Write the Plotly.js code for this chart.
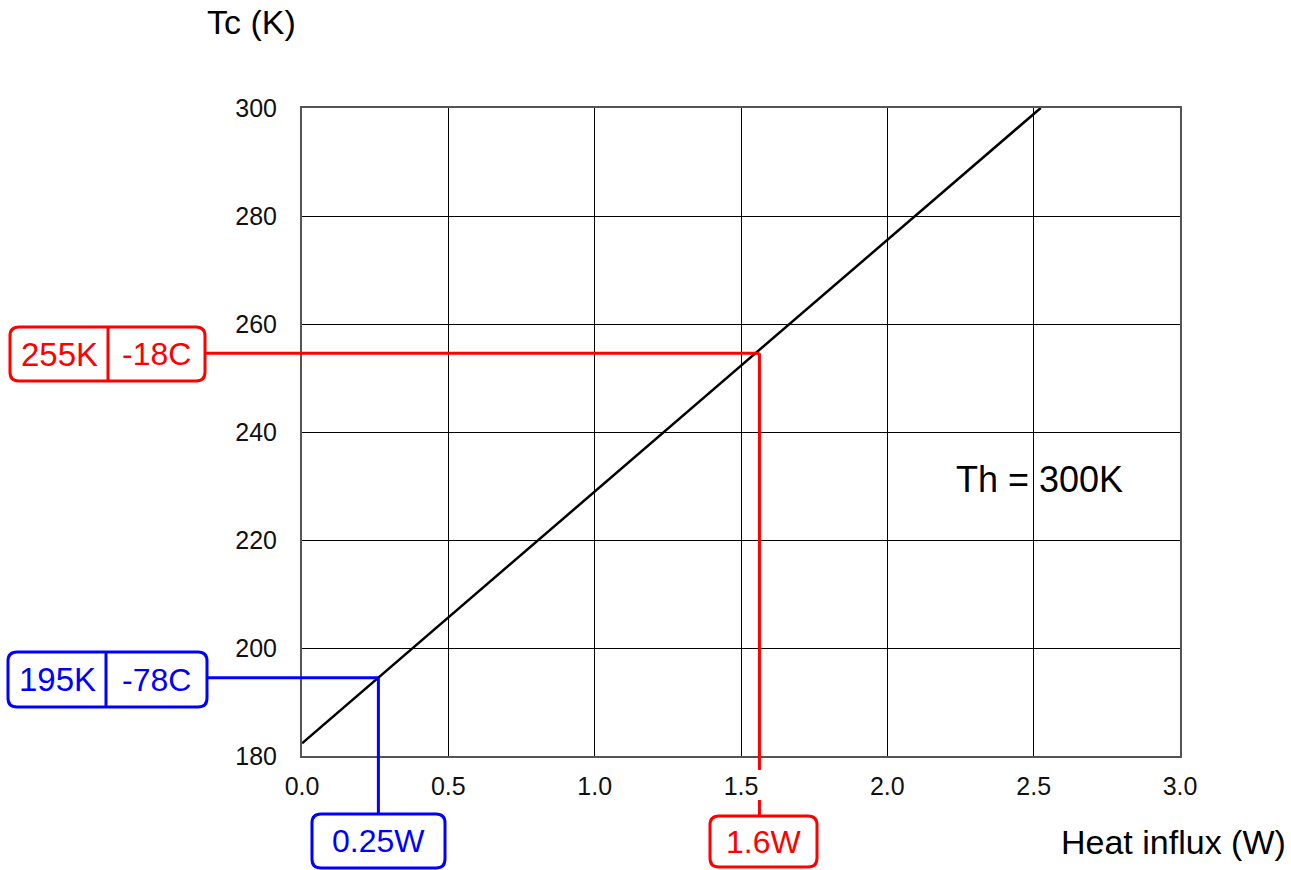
<!DOCTYPE html>
<html>
<head>
<meta charset="utf-8">
<script src="https://cdn.plot.ly/plotly-3.0.1.min.js"></script>
<style>html,body{margin:0;padding:0;background:#fff;}#chart{width:1291px;height:870px;}</style>
</head>
<body>
<div id="chart"></div>
<script>
// ---- data ----
const heatInflux = [0, 2.524];          // W
const coldTemp = [182.35, 300];         // K
const xTickVals = [0, 0.5, 1.0, 1.5, 2.0, 2.5, 3.0];
const xTickText = ['0.0', '0.5', '1.0', '1.5', '2.0', '2.5', '3.0'];
const yTickVals = [180, 200, 220, 240, 260, 280, 300];
const markerNames = ['blue', 'red'];
const markerW = [0.261, 1.563];         // W, where guides hit the curve
const markerK = [194.5, 254.6];         // K
const markerWLabel = ['0.25W', '1.6W'];
const markerKLabel = ['195K', '255K'];
const markerCLabel = ['-78C', '-18C'];
const markerColors = ['#0000ff', '#ff0000'];

// ---- layout geometry ----
const L = 302, R = 1180, T = 108, B = 756;
const PW = R - L, PH = B - T;
const xRange = [0, 3], yRange = [180, 300];
const fx = v => (v - xRange[0]) / (xRange[1] - xRange[0]);
const fy = v => (v - yRange[0]) / (yRange[1] - yRange[0]);
const pxX = p => (p - L) / PW;
const pxY = p => (B - p) / PH;
const font = 'Liberation Sans, Arial, sans-serif';

function roundRect(x0, y0, x1, y1, r) {
  const X = pxX, Y = pxY;
  return 'M' + X(x0 + r) + ',' + Y(y0) +
    ' L' + X(x1 - r) + ',' + Y(y0) +
    ' Q' + X(x1) + ',' + Y(y0) + ' ' + X(x1) + ',' + Y(y0 + r) +
    ' L' + X(x1) + ',' + Y(y1 - r) +
    ' Q' + X(x1) + ',' + Y(y1) + ' ' + X(x1 - r) + ',' + Y(y1) +
    ' L' + X(x0 + r) + ',' + Y(y1) +
    ' Q' + X(x0) + ',' + Y(y1) + ' ' + X(x0) + ',' + Y(y1 - r) +
    ' L' + X(x0) + ',' + Y(y0 + r) +
    ' Q' + X(x0) + ',' + Y(y0) + ' ' + X(x0 + r) + ',' + Y(y0) + ' Z';
}

const kBox = [{x0: 8, x1: 207, y0: 652, y1: 707, div: 106},
              {x0: 10, x1: 205, y0: 327, y1: 381, div: 108}];
const wBox = [{x0: 312, x1: 445, y0: 814, y1: 868},
              {x0: 710, x1: 817, y0: 816, y1: 867}];

const shapes = [];
const annotations = [];
const lw = 3;
for (let i = 0; i < markerNames.length; i++) {
  const c = markerColors[i];
  const kb = kBox[i], wb = wBox[i];
  shapes.push({type: 'line', xref: 'paper', yref: 'paper', layer: 'above',
    x0: pxX(kb.x1), x1: fx(markerW[i]), y0: fy(markerK[i]), y1: fy(markerK[i]),
    line: {color: c, width: lw}});
  if (markerNames[i] === 'red') {
    shapes.push({type: 'line', xref: 'paper', yref: 'paper', layer: 'above',
      x0: fx(markerW[i]), x1: fx(markerW[i]), y0: fy(markerK[i]), y1: pxY(770),
      line: {color: c, width: lw}});
    shapes.push({type: 'line', xref: 'paper', yref: 'paper', layer: 'above',
      x0: fx(markerW[i]), x1: fx(markerW[i]), y0: pxY(800), y1: pxY(wb.y0),
      line: {color: c, width: lw}});
  } else {
    shapes.push({type: 'line', xref: 'paper', yref: 'paper', layer: 'above',
      x0: fx(markerW[i]), x1: fx(markerW[i]), y0: fy(markerK[i]), y1: pxY(wb.y0),
      line: {color: c, width: lw}});
  }
  shapes.push({type: 'path', xref: 'paper', yref: 'paper', layer: 'above',
    path: roundRect(kb.x0, kb.y0, kb.x1, kb.y1, 9), line: {color: c, width: lw}});
  shapes.push({type: 'line', xref: 'paper', yref: 'paper', layer: 'above',
    x0: pxX(kb.div), x1: pxX(kb.div), y0: pxY(kb.y0), y1: pxY(kb.y1),
    line: {color: c, width: lw}});
  annotations.push({xref: 'paper', yref: 'paper', x: pxX((kb.x0 + kb.div) / 2), y: pxY((kb.y0 + kb.y1) / 2),
    text: markerKLabel[i], showarrow: false, xanchor: 'center', yanchor: 'middle',
    font: {family: font, size: 33, color: c}});
  annotations.push({xref: 'paper', yref: 'paper', x: pxX((kb.div + kb.x1) / 2), y: pxY((kb.y0 + kb.y1) / 2),
    text: markerCLabel[i], showarrow: false, xanchor: 'center', yanchor: 'middle',
    font: {family: font, size: 32, color: c}});
  shapes.push({type: 'path', xref: 'paper', yref: 'paper', layer: 'above',
    path: roundRect(wb.x0, wb.y0, wb.x1, wb.y1, 9), line: {color: c, width: lw}});
  annotations.push({xref: 'paper', yref: 'paper', x: pxX((wb.x0 + wb.x1) / 2), y: pxY((wb.y0 + wb.y1) / 2),
    text: markerWLabel[i], showarrow: false, xanchor: 'center', yanchor: 'middle',
    font: {family: font, size: 32, color: c}});
}

annotations.push({xref: 'paper', yref: 'paper', x: pxX(251), y: pxY(22), text: 'Tc (K)',
  showarrow: false, xanchor: 'center', yanchor: 'middle', font: {family: font, size: 34, color: '#000'}});
annotations.push({xref: 'paper', yref: 'paper', x: pxX(1288), y: pxY(842), text: 'Heat influx (W)',
  showarrow: false, xanchor: 'right', yanchor: 'middle', font: {family: font, size: 34, color: '#000'}});
annotations.push({xref: 'paper', yref: 'paper', x: pxX(954), y: pxY(479), text: 'Th = 300K',
  showarrow: false, xanchor: 'left', yanchor: 'middle', font: {family: font, size: 36, color: '#000'}});

const trace = {x: heatInflux, y: coldTemp, type: 'scatter', mode: 'lines',
  line: {color: '#000', width: 2.5}, hoverinfo: 'skip', showlegend: false};

const layout = {
  width: 1291, height: 870,
  margin: {l: L, r: 1291 - R, t: T, b: 870 - B, pad: 0},
  paper_bgcolor: '#fff', plot_bgcolor: '#fff',
  showlegend: false,
  xaxis: {range: xRange, tickvals: xTickVals, ticktext: xTickText, showgrid: true,
    gridcolor: '#000', gridwidth: 1, zeroline: false, showline: true, linecolor: '#555',
    linewidth: 2, mirror: true, ticks: '', ticklabelstandoff: 7,
    tickfont: {family: font, size: 25, color: '#111'}, fixedrange: true},
  yaxis: {range: yRange, tickvals: yTickVals, showgrid: true,
    gridcolor: '#000', gridwidth: 1, zeroline: false, showline: true, linecolor: '#555',
    linewidth: 2, mirror: true, ticks: '', ticklabelstandoff: 18,
    tickfont: {family: font, size: 25, color: '#111'}, fixedrange: true},
  shapes: shapes,
  annotations: annotations
};

Plotly.newPlot('chart', [trace], layout, {staticPlot: true, displayModeBar: false});
</script>
</body>
</html>
